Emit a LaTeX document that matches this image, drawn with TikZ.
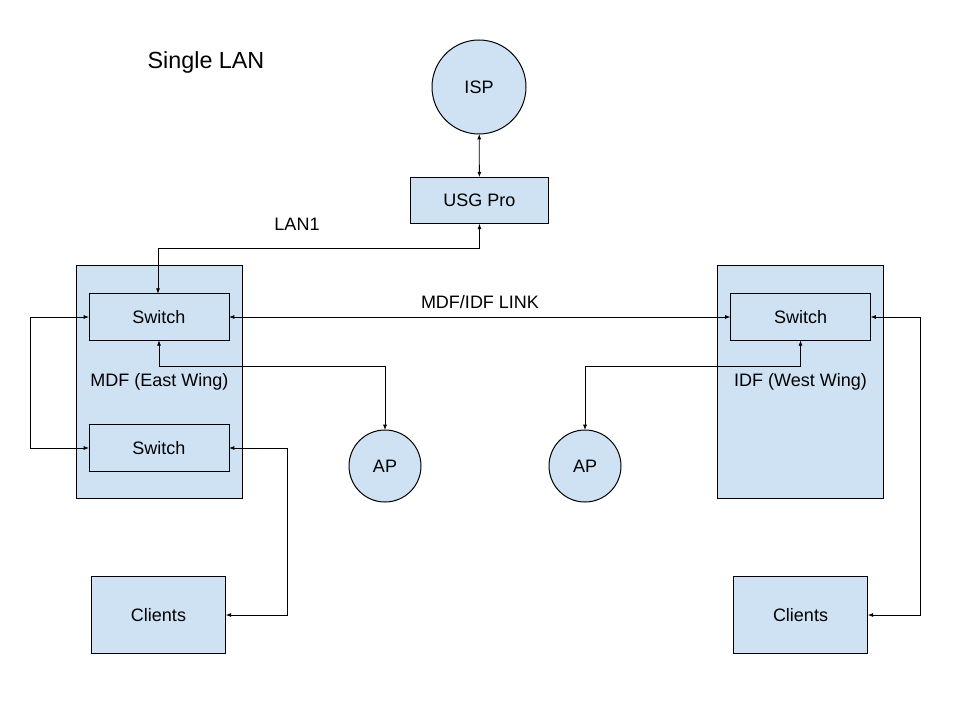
\documentclass[tikz,border=0pt]{standalone}
\usepackage{fontspec}
\setmainfont{Liberation Sans}
\usetikzlibrary{arrows.meta,positioning,calc}
\definecolor{netfill}{HTML}{CFE2F3}

\begin{document}
\begin{tikzpicture}[
  x=0.75pt, y=-0.75pt,
  font=\fontsize{13.5}{16}\selectfont,
  netbox/.style={
    draw, fill=netfill, line width=0.75pt,
    inner sep=0pt, outer sep=0pt
  },
  devbox/.style={netbox, minimum width=105pt, minimum height=35pt},
  wingbox/.style={netbox, minimum width=124pt, minimum height=174pt},
  clientbox/.style={netbox, minimum width=101pt, minimum height=58pt},
  netcircle/.style={netbox, circle},
  link/.style={{Latex[length=4pt,width=3pt]}-{Latex[length=4pt,width=3pt]}, line width=0.6pt}
]
\useasboundingbox (0,0) rectangle (960,720);

\node at (206,62) {\fontsize{17.5}{20}\selectfont Single LAN};

\node[netcircle, minimum size=70.5pt] (isp) at (479,87) {ISP};
\node[devbox, minimum width=104pt] (usg) at (479.5,200.5) {USG Pro};

\node[wingbox] (mdf) at (159.5,382) {MDF (East Wing)};
\node[devbox] (mdfsw1) at (159,317) {Switch};
\node[devbox] (mdfsw2) at (159,448) {Switch};

\node[wingbox] (idf) at (800.5,382) {IDF (West Wing)};
\node[devbox] (idfsw) at (800.5,317) {Switch};

\node[netcircle, minimum size=54pt] (apl) at (385,466) {AP};
\node[netcircle, minimum size=54pt] (apr) at (585,466) {AP};

\node[clientbox] (clientsl) at (158.5,615) {Clients};
\node[clientbox] (clientsr) at (800.5,615) {Clients};

\node at (297,224) {LAN1};
\node at (480,302) {MDF/IDF LINK};

\draw[link] (isp) -- (usg);
\draw[link] (usg.south) |- (158,248) -- (mdfsw1.north -| 158,0);
\draw[link] (mdfsw1.west) -- ++(-59,0) |- (mdfsw2.west);
\draw[link] (mdfsw1.east) -- (idfsw.west);
\draw[link] (mdfsw1.south) -- ++(0,26) -| (apl.north);
\draw[link] (idfsw.south) -- ++(0,26) -| (apr.north);
\draw[link] (mdfsw2.east) -- ++(58,0) |- (clientsl.east);
\draw[link] (idfsw.east) -- ++(50,0) |- (clientsr.east);
\end{tikzpicture}
\end{document}
